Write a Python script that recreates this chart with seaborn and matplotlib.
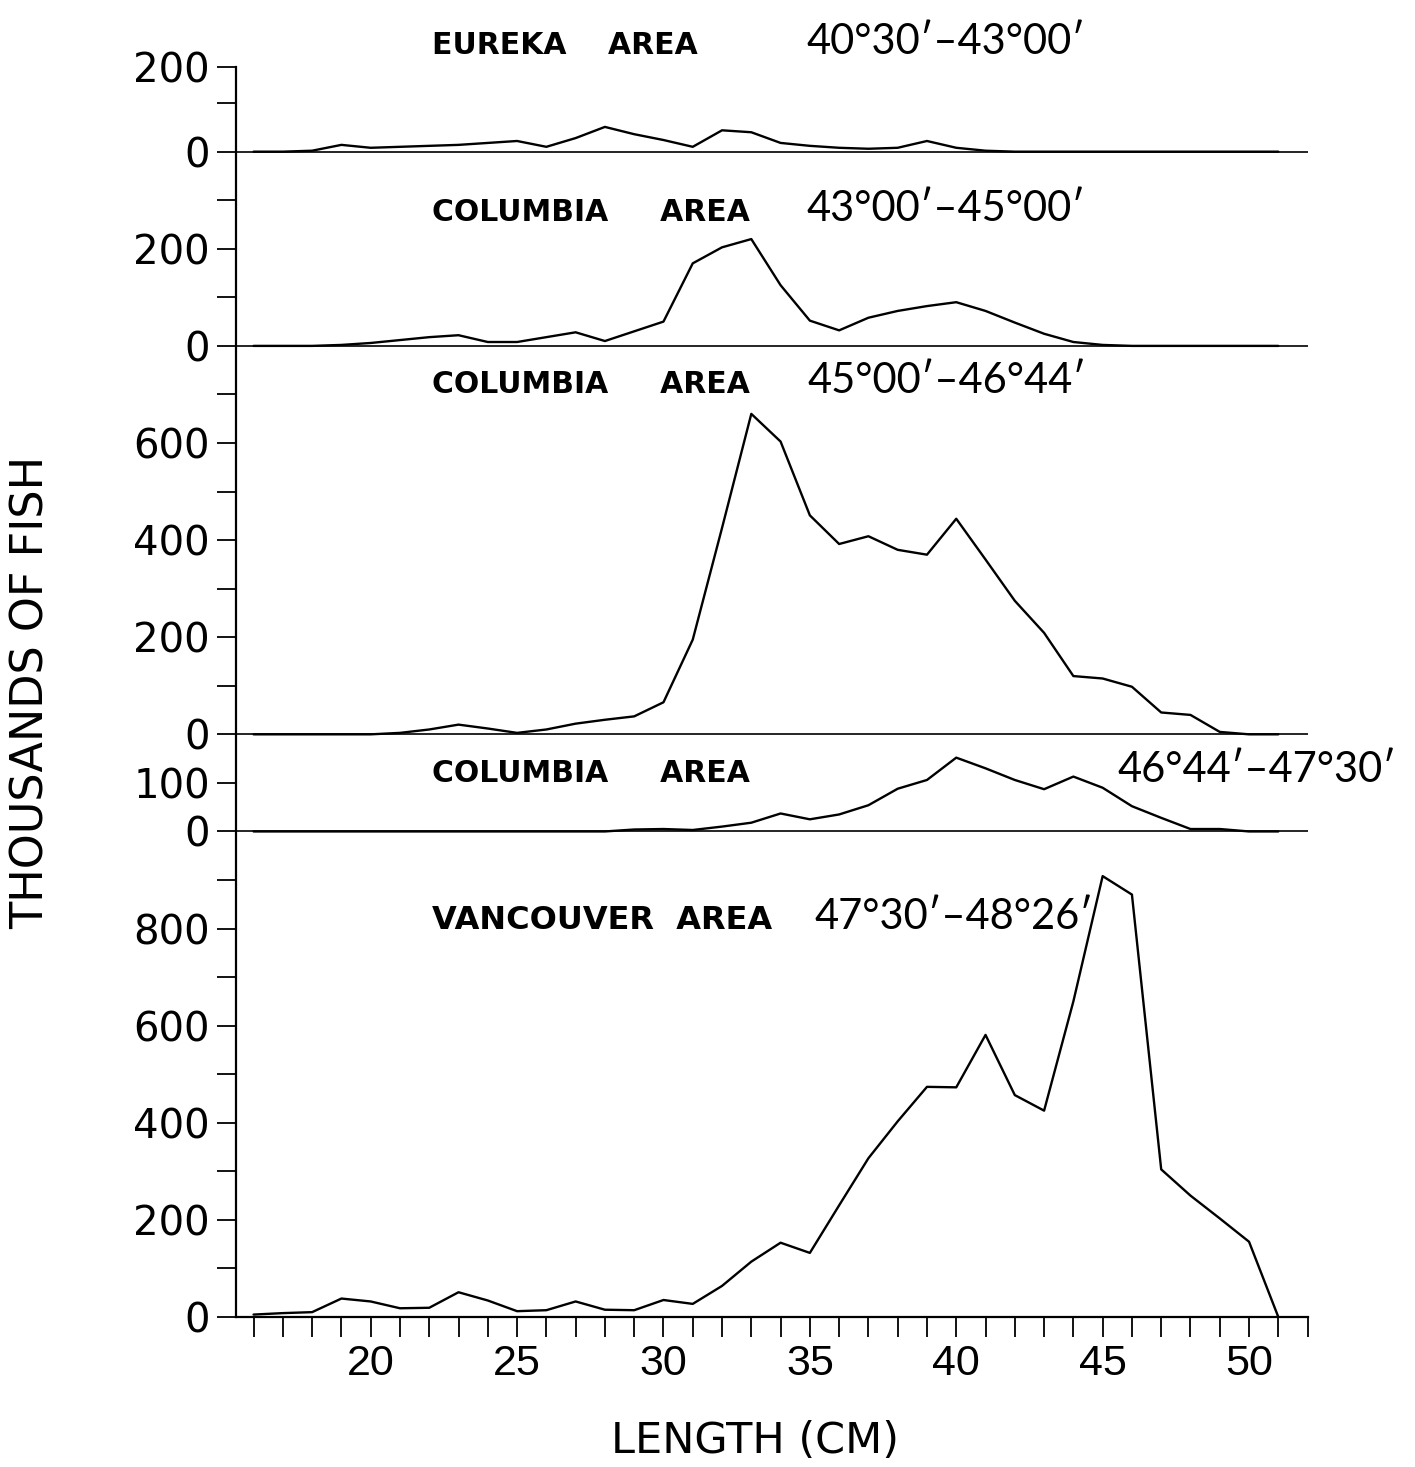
import numpy as np
import pandas as pd
import matplotlib
matplotlib.use("Agg")
import matplotlib.pyplot as plt
import seaborn as sns

# ---------------- data ----------------
lengths = list(range(16, 52))  # cm

eureka = [0, 0, 2, 14, 8, 10, 12, 14, 18, 22, 10, 28, 51, 36, 24, 10, 44, 40,
          18, 12, 8, 6, 8, 22, 8, 2, 0, 0, 0, 0, 0, 0, 0, 0, 0, 0]
columbia_43_45 = [0, 0, 0, 2, 6, 12, 18, 22, 8, 8, 18, 28, 10, 30, 50, 170, 203, 220,
                  125, 52, 32, 58, 72, 82, 90, 72, 48, 25, 8, 2, 0, 0, 0, 0, 0, 0]
columbia_45_4644 = [0, 0, 0, 0, 0, 3, 10, 20, 12, 3, 10, 22, 30, 37, 66, 195, 425, 660,
                    603, 451, 392, 408, 380, 370, 444, 360, 275, 209, 120, 115, 98, 45, 40, 5, 0, 0]
columbia_4644_4730 = [0, 0, 0, 0, 0, 0, 0, 0, 0, 0, 0, 0, 0, 4, 5, 3, 10, 18,
                      37, 25, 35, 54, 88, 106, 152, 130, 106, 87, 113, 90, 52, 28, 5, 5, 0, 0]
vancouver = [5, 8, 10, 38, 32, 18, 19, 51, 34, 12, 14, 32, 15, 14, 35, 27, 64, 114,
             153, 132, 230, 327, 403, 474, 473, 581, 457, 425, 650, 908, 870, 304, 250, 203, 155, 0]

panel_keys = ["eureka", "col1", "col2", "col3", "vanc"]
panel_series = [eureka, columbia_43_45, columbia_45_4644, columbia_4644_4730, vancouver]
area_titles = ["EUREKA    AREA", "COLUMBIA     AREA", "COLUMBIA     AREA", "COLUMBIA     AREA",
               "VANCOUVER  AREA"]
lat_ranges = ["40°30′–43°00′", "43°00′–45°00′", "45°00′–46°44′", "46°44′–47°30′", "47°30′–48°26′"]

# y tick labels per panel (thousands of fish)
panel_tick_values = [[0, 200], [0, 200], [0, 200, 400, 600], [0, 100], [0, 200, 400, 600, 800]]
x_tick_labels = [20, 25, 30, 35, 40, 45, 50]

# ---------------- layout (positions, not data) ----------------
offsets = {"eureka": 2400, "col1": 2000, "col2": 1200, "col3": 1000, "vanc": 0}
eureka_axis_top = 2575          # drawn top of the axis (labelled 200 on the original)
title_x = 22.1
title_sizes = [21.5, 21.5, 21.5, 21.5, 23]
lat_x = [34.9, 34.9, 34.93, 45.5, 35.17]
text_base = [2601, 2257, 1903, 1101, 800]

rows = []
for key, series in zip(panel_keys, panel_series):
    for L, v in zip(lengths, series):
        rows.append({"length": L, "count": v, "panel": key, "y": v + offsets[key]})
df = pd.DataFrame(rows)

sns.set_style("ticks")
plt.rcParams["font.family"] = ["DejaVu Sans"]
for k in ["text.color", "axes.labelcolor", "xtick.color", "ytick.color", "axes.edgecolor"]:
    plt.rcParams[k] = "black"

fig = plt.figure(figsize=(14.15, 14.67), dpi=100)
W, H = 1415, 1467
ax = fig.add_axes([236 / W, (H - 1317) / H, (1307.6 - 236) / W, (1317 - 66.7) / H])

sns.lineplot(data=df, x="length", y="y", units="panel", estimator=None,
             color="black", linewidth=1.7, ax=ax, legend=False, sort=True)

for key in panel_keys:
    if offsets[key] > 0:
        ax.axhline(offsets[key], color="black", linewidth=1.2, zorder=1)

ax.set_xlim(15.4, 52)
ax.set_ylim(0, eureka_axis_top)

# y ticks
ypos, ylab = [], []
for key, vals in zip(panel_keys, panel_tick_values):
    for v in vals:
        p = offsets[key] + v
        if key == "eureka" and v == 200:
            p = eureka_axis_top
        ypos.append(p)
        ylab.append(str(v))
ax.set_yticks(ypos)
ax.set_yticklabels(ylab)
minor_y = [v for v in range(0, 2600, 100) if v not in ypos]
ax.set_yticks(minor_y, minor=True)

ax.set_xticks(x_tick_labels)
ax.set_xticklabels([str(v) for v in x_tick_labels])
ax.set_xticks(list(range(16, 53)), minor=True)

ax.tick_params(axis="y", which="both", direction="out", length=13.7, width=1.3, color="black")
ax.tick_params(axis="y", which="major", pad=5, labelsize=29, labelcolor="black")
ax.tick_params(axis="x", which="both", direction="out", length=14.4, width=1.3, color="black")
ax.tick_params(axis="x", which="major", pad=5, labelsize=31, labelcolor="black")
for t in ax.get_xticklabels():
    t.set_fontfamily(["Liberation Sans", "DejaVu Sans"])

for s in ["top", "right"]:
    ax.spines[s].set_visible(False)
for s in ["left", "bottom"]:
    ax.spines[s].set_linewidth(1.6)
    ax.spines[s].set_color("black")

ax.set_xlabel("")
ax.set_ylabel("")

for i in range(5):
    ax.text(title_x, text_base[i], area_titles[i], fontsize=title_sizes[i], fontweight="bold",
            family=["DejaVu Sans"], color="black", ha="left", va="baseline", clip_on=False)
    ax.text(lat_x[i], text_base[i], lat_ranges[i], fontsize=30, fontweight="normal",
            family=["Lato", "DejaVu Sans"], color="black", ha="left", va="baseline", clip_on=False)

fig.text(755 / W, 1 - 1453 / H, "LENGTH (CM)", fontsize=31, fontweight="normal",
         family=["DejaVu Sans"], color="black", ha="center", va="baseline")
fig.text(31 / W, 1 - 692 / H, "THOUSANDS OF FISH", fontsize=32, fontweight="normal",
         family=["DejaVu Sans"], color="black", rotation=90, ha="center", va="center")

fig.savefig("out.png", dpi=100)
